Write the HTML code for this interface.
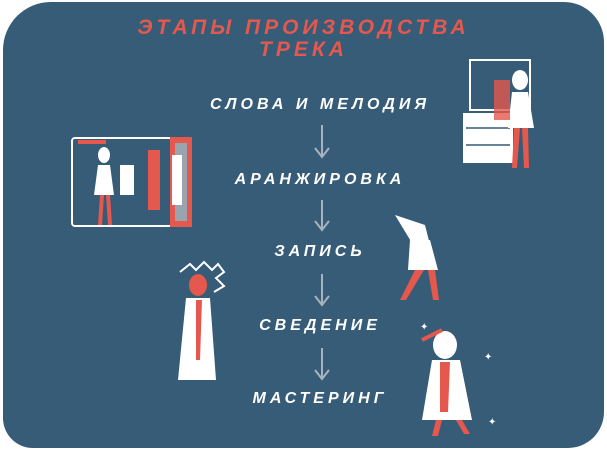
<!DOCTYPE html>
<html><head><meta charset="utf-8"><style>
body{margin:0;width:607px;height:452px;background:#fff;overflow:hidden;position:relative;font-family:"Liberation Sans","DejaVu Sans",sans-serif}
.bg{position:absolute;left:3px;top:2px;width:601px;height:446px;background:#365c77;border-radius:48px 40px 36px 30px}
.t{position:absolute;left:0;width:607px;text-align:center;color:#e5584d;font-size:21px;font-weight:bold;font-style:italic;letter-spacing:4px}
.l{position:absolute;left:0;width:640px;text-align:center;color:#fff;font-size:16px;font-weight:bold;font-style:italic;letter-spacing:4px}
svg{position:absolute;left:0;top:0}
</style></head><body>
<div class="bg"></div>
<div class="t" style="top:16px">ЭТАПЫ ПРОИЗВОДСТВА</div>
<div class="t" style="top:38px">ТРЕКА</div>
<div class="l" style="top:96px">СЛОВА И МЕЛОДИЯ</div>
<div class="l" style="top:171px">АРАНЖИРОВКА</div>
<div class="l" style="top:243px">ЗАПИСЬ</div>
<div class="l" style="top:317px">СВЕДЕНИЕ</div>
<div class="l" style="top:390px">МАСТЕРИНГ</div>
<svg width="607" height="452">
<g stroke="#a9b3bd" stroke-width="2" fill="none">
<path d="M322 125V156M315 148L322 157L329 148"/>
<path d="M322 200V229M315 221L322 230L329 221"/>
<path d="M322 274V304M315 296L322 305L329 296"/>
<path d="M322 348V378M315 370L322 379L329 370"/>
</g>
<!-- wardrobe -->
<g stroke="#fff" stroke-width="2" fill="none"><rect x="72" y="138" width="100" height="88" rx="3"/></g>
<rect x="78" y="140" width="28" height="4" fill="#e5584d"/>
<rect x="170" y="137" width="22" height="90" fill="#e5584d"/>
<rect x="175" y="143" width="12" height="78" fill="#9aa4ae"/>
<ellipse cx="104" cy="155" rx="6" ry="8" fill="#fff"/>
<path d="M98 165h12l4 30h-20z" fill="#fff"/>
<path d="M100 195l-2 30h4l2-30M106 195l2 30h4l-2-30" fill="#e5584d"/>
<rect x="120" y="165" width="14" height="30" fill="#fff"/>
<rect x="148" y="150" width="12" height="60" fill="#e5584d"/>
<rect x="172" y="155" width="10" height="50" fill="#fff"/>
<!-- vanity -->
<rect x="470" y="60" width="60" height="50" fill="none" stroke="#fff" stroke-width="2"/>
<rect x="463" y="113" width="50" height="50" fill="#fff"/>
<g stroke="#365c77" stroke-width="1.5"><path d="M466 128h44M466 145h44"/></g>
<ellipse cx="520" cy="80" rx="8" ry="10" fill="#fff"/>
<path d="M512 92h16l6 36h-26z" fill="#fff"/>
<path d="M514 128l-2 40h5l3-40M522 128l2 40h5l-1-40" fill="#e5584d"/>
<rect x="494" y="80" width="16" height="40" fill="#e5584d" opacity=".8"/>
<!-- recording -->
<path d="M395 215l30 10 5 20-12 8z" fill="#fff"/>
<path d="M410 240h20l8 30h-30z" fill="#fff"/>
<path d="M415 270l-15 30h6l18-30M428 270l5 30h6l-4-30" fill="#e5584d"/>
<!-- mixing -->
<path d="M180 272l10 -8 6 6 8-8 8 8 6-6 6 8-8 6 8 8-10 6" stroke="#fff" stroke-width="2" fill="none"/>
<ellipse cx="198" cy="285" rx="9" ry="11" fill="#e5584d"/>
<path d="M186 298h24l6 82h-38z" fill="#fff"/>
<path d="M196 300h6l-2 60h-4z" fill="#e5584d"/>
<!-- mastering -->
<ellipse cx="445" cy="345" rx="12" ry="14" fill="#fff"/>
<path d="M432 360h28l12 60h-50z" fill="#fff"/>
<path d="M440 362h10l-2 50h-8z" fill="#e5584d"/>
<path d="M436 420l-4 16h6l4-16M456 420l8 14h6l-8-14" fill="#e5584d"/>
<path d="M422 340l20-10" stroke="#e5584d" stroke-width="4"/>
<g fill="#fff" font-size="10"><text x="420" y="330">✦</text><text x="484" y="360">✦</text><text x="488" y="425">✦</text><text x="425" y="398">✦</text></g>
</svg>
</body></html>
